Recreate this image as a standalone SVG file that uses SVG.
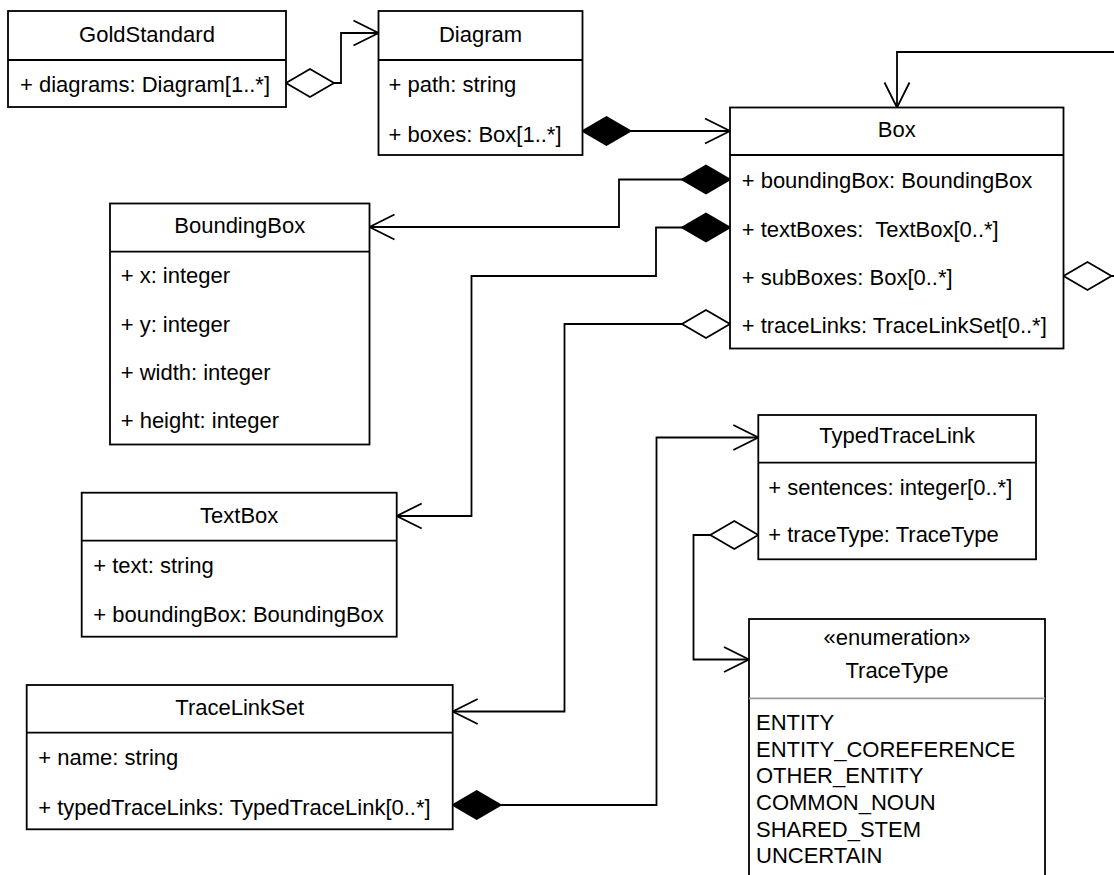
<svg xmlns="http://www.w3.org/2000/svg" width="1114" height="875" viewBox="0 0 1114 875">
  <style>
    .cls { fill: #ffffff; stroke: #000000; stroke-width: 1.8; }
    .div { stroke: #000000; stroke-width: 1.8; }
    .div-light { stroke: #9a9a9a; stroke-width: 1.8; }
    text { font-family: "Liberation Sans", Arial, Helvetica, sans-serif; font-size: 22px; fill: #000000; }
    .title { text-anchor: middle; }
    .edge { fill: none; stroke: #000000; stroke-width: 1.8; }
  </style>
  <defs>
    <!-- open navigability arrow -->
    <marker id="open-arrow" markerUnits="userSpaceOnUse" viewBox="-28 -15 30 30" markerWidth="30" markerHeight="30" refX="0" refY="0" orient="auto" overflow="visible">
      <path d="M-25,-12.5 L0,0 L-25,12.5" fill="none" stroke="#000000" stroke-width="1.8"/>
    </marker>
    <!-- aggregation (hollow diamond) -->
    <marker id="aggregation" markerUnits="userSpaceOnUse" viewBox="-2 -16 52 32" markerWidth="52" markerHeight="32" refX="0" refY="0" orient="auto" overflow="visible">
      <path d="M0,0 L24,-14 L48,0 L24,14 Z" fill="#ffffff" stroke="#000000" stroke-width="1.8"/>
    </marker>
    <!-- composition (filled diamond) -->
    <marker id="composition" markerUnits="userSpaceOnUse" viewBox="-2 -16 52 32" markerWidth="52" markerHeight="32" refX="0" refY="0" orient="auto" overflow="visible">
      <path d="M0,0 L24,-14 L48,0 L24,14 Z" fill="#000000" stroke="#000000" stroke-width="1.8"/>
    </marker>
  </defs>

  <rect x="0" y="0" width="1114" height="875" fill="#ffffff"/>

  <g id="connectors">
    <path class="edge" d="M286,83 H341 V33 H378.5" marker-start="url(#aggregation)" marker-end="url(#open-arrow)"/>
    <path class="edge" d="M582.5,131 H730" marker-start="url(#composition)" marker-end="url(#open-arrow)"/>
    <path class="edge" d="M730,179.5 H619 V227 H369.5" marker-start="url(#composition)" marker-end="url(#open-arrow)"/>
    <path class="edge" d="M730,227.5 H656 V276 H471.5 V516 H396.7" marker-start="url(#composition)" marker-end="url(#open-arrow)"/>
    <path class="edge" d="M730,324 H564.5 V711.5 H452.7" marker-start="url(#aggregation)" marker-end="url(#open-arrow)"/>
    <path class="edge" d="M1063.5,276 H1140 V52 H897 V107.5" marker-start="url(#aggregation)" marker-end="url(#open-arrow)"/>
    <path class="edge" d="M452.7,805 H656.5 V437.5 H758.3" marker-start="url(#composition)" marker-end="url(#open-arrow)"/>
    <path class="edge" d="M758.3,535 H693.5 V659.5 H749" marker-start="url(#aggregation)" marker-end="url(#open-arrow)"/>
  </g>

  <g id="GoldStandard">
    <rect class="cls" x="8" y="11" width="278" height="96"/>
    <line class="div" x1="8" y1="60" x2="286" y2="60"/>
    <text class="title" x="147" y="42">GoldStandard</text>
    <text x="20" y="92">+ diagrams: Diagram[1..*]</text>
  </g>

  <g id="Diagram">
    <rect class="cls" x="378.5" y="11" width="204" height="144"/>
    <line class="div" x1="378.5" y1="60" x2="582.5" y2="60"/>
    <text class="title" x="480.5" y="42">Diagram</text>
    <text x="388.5" y="92">+ path: string</text>
    <text x="388.5" y="141.5">+ boxes: Box[1..*]</text>
  </g>

  <g id="Box">
    <rect class="cls" x="730" y="107.5" width="333.5" height="241"/>
    <line class="div" x1="730" y1="155" x2="1063.5" y2="155"/>
    <text class="title" x="896.7" y="137">Box</text>
    <text x="741.7" y="188">+ boundingBox: BoundingBox</text>
    <text x="741.7" y="237" xml:space="preserve">+ textBoxes:  TextBox[0..*]</text>
    <text x="741.7" y="285">+ subBoxes: Box[0..*]</text>
    <text x="741.7" y="333">+ traceLinks: TraceLinkSet[0..*]</text>
  </g>

  <g id="BoundingBox">
    <rect class="cls" x="110" y="203.5" width="259.5" height="241"/>
    <line class="div" x1="110" y1="251.7" x2="369.5" y2="251.7"/>
    <text class="title" x="239.7" y="233.3">BoundingBox</text>
    <text x="120.7" y="283.3">+ x: integer</text>
    <text x="120.7" y="331.7">+ y: integer</text>
    <text x="120.7" y="380">+ width: integer</text>
    <text x="120.7" y="428.3">+ height: integer</text>
  </g>

  <g id="TextBox">
    <rect class="cls" x="81.7" y="492.7" width="315" height="144"/>
    <line class="div" x1="81.7" y1="540.7" x2="396.7" y2="540.7"/>
    <text class="title" x="239.2" y="523">TextBox</text>
    <text x="93.3" y="573.3">+ text: string</text>
    <text x="93.3" y="621.7">+ boundingBox: BoundingBox</text>
  </g>

  <g id="TraceLinkSet">
    <rect class="cls" x="26.7" y="685" width="426" height="144.3"/>
    <line class="div" x1="26.7" y1="732.7" x2="452.7" y2="732.7"/>
    <text class="title" x="239.7" y="715">TraceLinkSet</text>
    <text x="38.3" y="765">+ name: string</text>
    <text x="38.3" y="815">+ typedTraceLinks: TypedTraceLink[0..*]</text>
  </g>

  <g id="TypedTraceLink">
    <rect class="cls" x="758.3" y="415" width="277.7" height="144.3"/>
    <line class="div" x1="758.3" y1="462.7" x2="1036" y2="462.7"/>
    <text class="title" x="897.2" y="443.3">TypedTraceLink</text>
    <text x="768.3" y="495">+ sentences: integer[0..*]</text>
    <text x="768.3" y="541.7">+ traceType: TraceType</text>
  </g>

  <g id="TraceType">
    <rect class="cls" x="749" y="619" width="296" height="290"/>
    <line class="div-light" x1="749" y1="698.3" x2="1045" y2="698.3"/>
    <text class="title" x="897" y="645">«enumeration»</text>
    <text class="title" x="897" y="678.3">TraceType</text>
    <text x="756" y="730">ENTITY</text>
    <text x="756" y="756.7">ENTITY_COREFERENCE</text>
    <text x="756" y="783.3">OTHER_ENTITY</text>
    <text x="756" y="810">COMMON_NOUN</text>
    <text x="756" y="836.7">SHARED_STEM</text>
    <text x="756" y="863.3">UNCERTAIN</text>
  </g>
</svg>
